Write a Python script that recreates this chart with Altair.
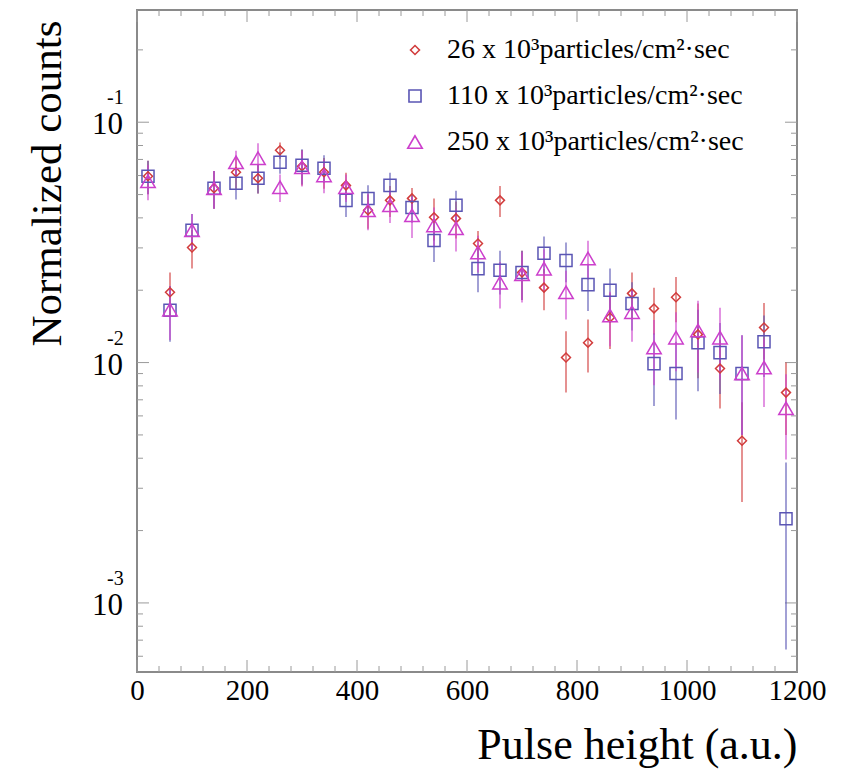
import altair as alt
import pandas as pd

# ---------------- data ----------------
pulse = [20, 60, 100, 140, 180, 220, 260, 300, 340, 380,
         420, 460, 500, 540, 580, 620, 660, 700, 740, 780,
         820, 860, 900, 940, 980, 1020, 1060, 1100, 1140, 1180]

labels = ["26 x 10³particles/cm²·sec",
          "110 x 10³particles/cm²·sec",
          "250 x 10³particles/cm²·sec"]

c26 = [0.0596, 0.0196, 0.0301, 0.0531, 0.0619, 0.0585, 0.0764, 0.0656, 0.0619, 0.0546,
       0.0430, 0.0473, 0.0482, 0.0402, 0.0398, 0.0313, 0.0473, 0.0237, 0.0205, 0.0105,
       0.0121, 0.0154, 0.0194, 0.0168, 0.0187, 0.0131, 0.00944, 0.00473, 0.0140, 0.0075]
e26 = [0.0095, 0.0041, 0.0055, 0.0095, 0.009, 0.008, 0.006, 0.011, 0.009, 0.007,
       0.007, 0.007, 0.005, 0.008, 0.007, 0.004, 0.007, 0.0055, 0.004, 0.003,
       0.003, 0.004, 0.0043, 0.0037, 0.004, 0.0045, 0.003, 0.0021, 0.0037, 0.0025]

c110 = [0.0596, 0.0165, 0.0355, 0.0531, 0.0557, 0.0585, 0.0681, 0.0662, 0.0643, 0.0473,
        0.0482, 0.0546, 0.0442, 0.0322, 0.0451, 0.0246, 0.0242, 0.0237, 0.0285, 0.0266,
        0.0211, 0.0200, 0.0176, 0.0099, 0.0090, 0.0121, 0.0110, 0.0090, 0.0122, 0.00224]
e110 = [0.0095, 0.0043, 0.006, 0.0095, 0.008, 0.008, 0.007, 0.011, 0.0085, 0.007,
        0.0065, 0.007, 0.006, 0.006, 0.0068, 0.005, 0.005, 0.0055, 0.005, 0.005,
        0.0047, 0.0046, 0.004, 0.0033, 0.0032, 0.0045, 0.0036, 0.0040, 0.0035, 0.0016]

c250 = [0.0568, 0.0166, 0.0355, 0.0531, 0.0681, 0.0708, 0.0536, 0.0650, 0.0601, 0.0536,
        0.0430, 0.0451, 0.0410, 0.0372, 0.0362, 0.0287, 0.0215, 0.0233, 0.0246, 0.0196,
        0.0271, 0.0157, 0.0162, 0.01155, 0.0127, 0.0136, 0.0127, 0.0090, 0.00953, 0.00645]
e250 = [0.0095, 0.0042, 0.006, 0.0095, 0.008, 0.011, 0.007, 0.011, 0.0095, 0.007,
        0.0075, 0.007, 0.008, 0.007, 0.0072, 0.005, 0.0047, 0.0055, 0.005, 0.0045,
        0.005, 0.004, 0.004, 0.0035, 0.0035, 0.0045, 0.0042, 0.0040, 0.003, 0.0025]

x_ticks = [0, 200, 400, 600, 800, 1000, 1200]
x_minor = [v for v in range(0, 1201, 40) if v % 200 != 0]
y_ticks = [0.1, 0.01, 0.001]
y_base = ["10", "10", "10"]
y_exp = ["-1", "-2", "-3"]
y_minor = [m * 10.0 ** e for e in (-4, -3, -2, -1) for m in range(2, 10)]
y_minor = [v for v in y_minor if 0.000516 < v < 0.293]

colors = ["#d23c3c", "#5a55b4", "#cc3fcc"]
shapes = ["diamond", "square", "triangle-up"]
sizes = [80, 210, 230]

# ---------------- frames ----------------
rows = []
for lab, vals, errs in zip(labels, [c26, c110, c250], [e26, e110, e250]):
    for xv, yv, ev in zip(pulse, vals, errs):
        rows.append(dict(x=xv, y=yv, lo=max(yv - ev, 0.00053), hi=yv + ev, series=lab))
df = pd.DataFrame(rows)

W, H = 660, 662
SERIF = "Liberation Serif"

xscale = alt.Scale(domain=[0, 1200], nice=False, zero=False)
yscale = alt.Scale(type="log", domain=[0.000516, 0.293], nice=False)
cscale = alt.Scale(domain=labels, range=colors)

xaxis = alt.Axis(values=x_ticks, labelFont=SERIF, labelFontSize=29, labelColor="black",
                 labelPadding=4, labelFlush=False, ticks=False, domain=False, grid=False,
                 title="Pulse height (a.u.)", titleFont=SERIF, titleFontSize=44,
                 titleFontWeight="normal", titleColor="black", titleAlign="right",
                 titleBaseline="alphabetic", titleX=W, titleY=86, format="d")
yaxis = alt.Axis(labels=False, ticks=False, domain=False, grid=False,
                 title="Normalized counts", titleFont=SERIF, titleFontSize=43,
                 titleFontWeight="normal", titleColor="black", titleAlign="right",
                 titleBaseline="alphabetic", titleX=-77, titleY=10)

X = lambda f: alt.X(f, scale=xscale, axis=xaxis)
Y = lambda f: alt.Y(f, scale=yscale, axis=yaxis)

base = alt.Chart(df)

bars = base.mark_rule(strokeWidth=1.5, opacity=0.75).encode(
    x=X("x:Q"),
    y=Y("lo:Q"),
    y2="hi:Q",
    color=alt.Color("series:N", scale=cscale, legend=None),
)

leg = alt.Legend(title=None, orient="none", legendX=264, legendY=26,
                 labelFont=SERIF, labelFontSize=28, labelColor="black", labelLimit=0,
                 rowPadding=18, symbolSize=130, symbolStrokeWidth=1.6, labelOffset=18)

pts = base.mark_point(filled=False, strokeWidth=1.5, opacity=1).encode(
    x=X("x:Q"),
    y=Y("y:Q"),
    color=alt.Color("series:N", scale=cscale, legend=leg),
    shape=alt.Shape("series:N", scale=alt.Scale(domain=labels, range=shapes), legend=leg),
    size=alt.Size("series:N", scale=alt.Scale(domain=labels, range=sizes), legend=None),
)

# inside ticks on all four sides
tick_col = "#9a9a9a"
xmaj = pd.DataFrame({"x": x_ticks})
xmin = pd.DataFrame({"x": x_minor})
ymaj = pd.DataFrame({"y": y_ticks})
ymin = pd.DataFrame({"y": y_minor})

def xt(d, y0, y1):
    return alt.Chart(d).mark_rule(color=tick_col, strokeWidth=1).encode(
        x=X("x:Q"), y=alt.value(y0), y2=alt.value(y1))

def yt(d, x0, x1):
    return alt.Chart(d).mark_rule(color=tick_col, strokeWidth=1).encode(
        y=Y("y:Q"), x=alt.value(x0), x2=alt.value(x1))

ticks = [xt(xmaj, H, H - 12), xt(xmin, H, H - 6), xt(xmaj, 0, 12), xt(xmin, 0, 6),
         yt(ymaj, 0, 12), yt(ymin, 0, 6), yt(ymaj, W, W - 12), yt(ymin, W, W - 6)]

ylab = pd.DataFrame({"y": y_ticks, "base": y_base, "exp": y_exp})
ylab_base = alt.Chart(ylab).mark_text(font=SERIF, fontSize=31, align="right",
                                      baseline="middle", color="black", dy=3).encode(
    y=Y("y:Q"), x=alt.value(-14), text="base:N")
ylab_exp = alt.Chart(ylab).mark_text(font=SERIF, fontSize=20, align="left",
                                     baseline="middle", color="black", dy=-24).encode(
    y=Y("y:Q"), x=alt.value(-30), text="exp:N")

chart = alt.layer(
    *ticks, bars, pts, ylab_base, ylab_exp
).resolve_legend(
    color="independent", shape="independent", size="independent"
).properties(
    width=W, height=H,
    autosize=alt.AutoSizeParams(type="none"),
    padding={"left": 137, "top": 10, "right": 56, "bottom": 99},
    background="white",
).configure_view(
    stroke="#8a8a8a", strokeWidth=2
)

chart.save("out.html", embed_options={"renderer": "svg", "actions": False})
